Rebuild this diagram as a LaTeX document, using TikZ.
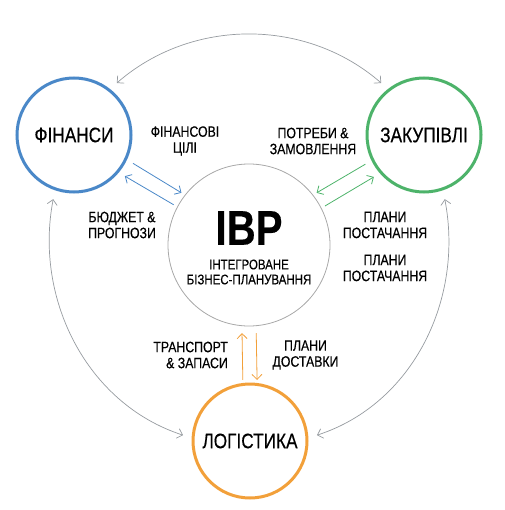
\documentclass[tikz,border=0pt]{standalone}
\usepackage{fontspec}
\setmainfont[FakeStretch=0.82,FakeBold=0.4]{Liberation Sans}
\usetikzlibrary{arrows.meta}

\definecolor{finblue}{RGB}{74,136,200}
\definecolor{procgreen}{RGB}{77,179,106}
\definecolor{logorange}{RGB}{242,160,58}
\definecolor{ringgray}{RGB}{168,168,168}
\definecolor{arcgray}{RGB}{150,155,160}

\tikzset{
  unit/.style={circle, draw, line width=3pt, inner sep=0pt, minimum size=114pt, font=\fontsize{21}{24}\selectfont},
  hub/.style={circle, draw=ringgray, line width=0.8pt, inner sep=0pt, minimum size=162pt},
  flowlabel/.style={align=center, font=\fontsize{15}{16}\selectfont, inner sep=0pt},
  flow/.style={line width=0.8pt, -{Straight Barb[length=5pt,width=10pt]}},
  loop/.style={draw=arcgray, line width=0.7pt, {Straight Barb[length=5pt,width=10pt]}-{Straight Barb[length=5pt,width=10pt]}, shorten <=9pt, shorten >=9pt},
}

\begin{document}
\begin{tikzpicture}[x=1pt,y=-1pt]
\useasboundingbox (0,0) rectangle (504,510);

% circles
\node[unit, draw=finblue] (fin) at (74,135) {ФІНАНСИ};
\node[unit, draw=procgreen] (proc) at (424,135) {ЗАКУПІВЛІ};
\node[unit, draw=logorange] (log) at (250,441) {ЛОГІСТИКА};
\node[hub] (ibp) at (249,245) {};

\node[font=\bfseries\fontsize{49}{50}\selectfont, inner sep=0pt] (ibptitle) at (249,228) {IBP};
\node[flowlabel, font=\fontsize{14}{15}\selectfont] (ibpsub) at (249,272) {ІНТЕГРОВАНЕ\\БІЗНЕС-ПЛАНУВАННЯ};

% outer loop
\draw[loop] (fin.52) to[out=41, in=139] (proc.128);
\draw[loop] (fin.251) to[out=259, in=162] (log.177);
\draw[loop] (proc.289) to[out=281, in=18] (log.3);

% flows to and from the hub
\draw[flow, finblue, shorten <=7pt, shorten >=4pt] (fin.-25) -- (ibp.142);
\draw[flow, finblue, shorten <=4pt, shorten >=7pt] (ibp.152) -- (fin.-40);
\draw[flow, procgreen, shorten <=7pt, shorten >=4pt] (proc.206) -- (ibp.38);
\draw[flow, procgreen, shorten <=4pt, shorten >=7pt] (ibp.27) -- (proc.221);
\draw[flow, logorange, shorten <=3pt, shorten >=7pt] (log.97) -- (ibp.265);
\draw[flow, logorange, shorten <=7pt, shorten >=3pt] (ibp.275) -- (log.83);

% labels
\node[flowlabel] (fingoals) at (185,141) {ФІНАНСОВІ\\ЦІЛІ};
\node[flowlabel] (procneeds) at (313,141) {ПОТРЕБИ \&\\ЗАМОВЛЕННЯ};
\node[flowlabel] (budget) at (122,225) {БЮДЖЕТ \&\\ПРОГНОЗИ};
\node[flowlabel] (supplyA) at (385,225) {ПЛАНИ\\ПОСТАЧАННЯ};
\node[flowlabel] (supplyB) at (385,268) {ПЛАНИ\\ПОСТАЧАННЯ};
\node[flowlabel, align=right, anchor=east] (transport) at (228,355) {ТРАНСПОРТ\\\& ЗАПАСИ};
\node[flowlabel] (delivery) at (305.5,355) {ПЛАНИ\\ДОСТАВКИ};

\end{tikzpicture}
\end{document}
